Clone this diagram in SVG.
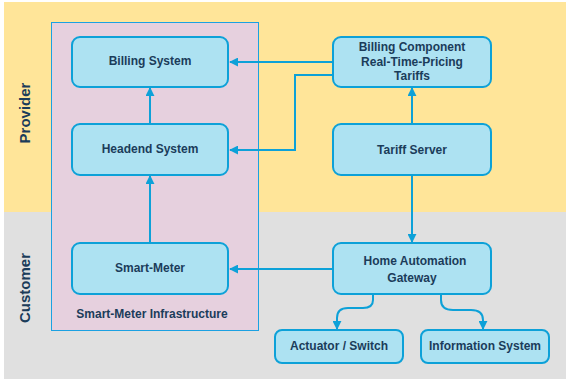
<svg xmlns="http://www.w3.org/2000/svg" width="566" height="379" viewBox="0 0 566 379">
<style>
.node rect{fill:#ADE2F2;stroke:#0DA1D8;stroke-width:2}
.node text,.lbl{font-family:"Liberation Sans",Arial,sans-serif;font-weight:bold;font-size:12px;fill:#1B3C5A;text-anchor:middle}
.lane{font-family:"Liberation Sans",Arial,sans-serif;font-weight:bold;font-size:15px;fill:#1B3C5A;text-anchor:middle}
.conn path{fill:none;stroke:#0DA1D8;stroke-width:2}
</style>
<defs>
<marker id="ah" viewBox="0 0 10 10" refX="9" refY="5" markerWidth="4.5" markerHeight="4.5" markerUnits="strokeWidth" orient="auto">
<path d="M0,0 L10,5 L0,10 z" fill="#0DA1D8"/>
</marker>
</defs>
<rect x="4" y="2" width="562" height="210" fill="#FFE599"/>
<rect x="4" y="212" width="562" height="167" fill="#E0E0E0"/>
<text class="lane" transform="translate(30,113) rotate(-90)">Provider</text>
<text class="lane" transform="translate(30,288) rotate(-90)">Customer</text>
<g id="infrastructure">
<rect x="51.5" y="22.5" width="207" height="308" fill="#E6D0DE" stroke="#1BA1E2" stroke-width="1"/>
<text class="lbl" x="152" y="318">Smart-Meter Infrastructure</text>
</g>
<g class="conn">
<path d="M333,62 H230" marker-end="url(#ah)"/>
<path d="M333,75 H295 V150 H230" marker-end="url(#ah)"/>
<path d="M150,124 V88" marker-end="url(#ah)"/>
<path d="M150,243 V176" marker-end="url(#ah)"/>
<path d="M412,124 V88" marker-end="url(#ah)"/>
<path d="M412,175 V242" marker-end="url(#ah)"/>
<path d="M333,269 H230" marker-end="url(#ah)"/>
<path d="M373,294 V300 Q373,308 363,308 H348 Q337,308 337,318 V329" marker-end="url(#ah)"/>
<path d="M441,294 V300 Q441,310 453,310 H471 Q483,310 483,320 V329" marker-end="url(#ah)"/>
</g>
<g id="billing" class="node"><rect x="72" y="37" width="156" height="50" rx="8"/><text x="150" y="65">Billing System</text></g>
<g id="headend" class="node"><rect x="72" y="124" width="156" height="51" rx="8"/><text x="150" y="153">Headend System</text></g>
<g id="smartmeter" class="node"><rect x="72" y="243" width="156" height="51" rx="8"/><text x="150" y="272">Smart-Meter</text></g>
<g id="billingcomp" class="node"><rect x="333" y="37" width="158" height="50" rx="8"/><text x="412" y="51">Billing Component</text><text x="412" y="66">Real-Time-Pricing</text><text x="412" y="80">Tariffs</text></g>
<g id="tariff" class="node"><rect x="333" y="124" width="158" height="51" rx="8"/><text x="412" y="154">Tariff Server</text></g>
<g id="gateway" class="node"><rect x="333" y="243" width="158" height="51" rx="8"/><text x="415" y="265">Home Automation</text><text x="412" y="282">Gateway</text></g>
<g id="actuator" class="node"><rect x="275" y="330" width="128" height="33" rx="7"/><text x="339" y="350">Actuator / Switch</text></g>
<g id="info" class="node"><rect x="421" y="330" width="128" height="33" rx="7"/><text x="485" y="350">Information System</text></g>
</svg>
